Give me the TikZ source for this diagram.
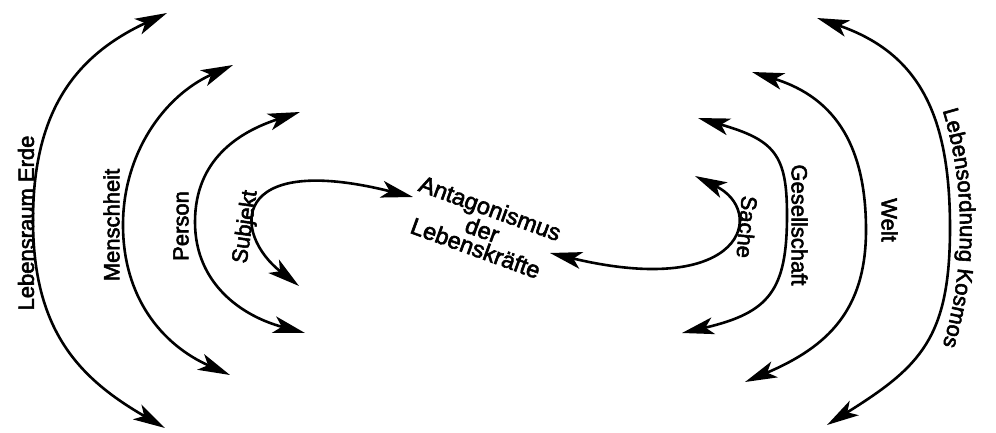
\documentclass[tikz,border=0pt]{standalone}
\usepackage{fontspec}
\newfontfamily\lblfamily[FakeBold=2.5]{Liberation Sans}
\usetikzlibrary{arrows.meta,decorations.text}
\newcommand\lblfont{\lblfamily\fontsize{22}{24}\selectfont}
\newcommand\ctrfont{\lblfamily\fontsize{23.5}{19.5}\selectfont}

\begin{document}
\begin{tikzpicture}[x=1pt,y=1pt,
  arc/.style={line width=2.6pt,
    arrows={Stealth[length=32pt,width=17pt,inset=8pt]-Stealth[length=32pt,width=17pt,inset=8pt]}},
  word/.style={font=\lblfont,inner sep=0pt}
]
\fill[white] (0,0) rectangle (996,432);
\useasboundingbox (0,0) rectangle (996,432);

% left family: bottom tip, outermost point, top tip
\coordinate (lb1) at (165,4);   \coordinate (lm1) at (33,212);  \coordinate (lt1) at (167,419);
\coordinate (lb2) at (230,57);  \coordinate (lm2) at (123,207); \coordinate (lt2) at (233,367);
\coordinate (lb3) at (305,99);  \coordinate (lm3) at (195,210); \coordinate (lt3) at (300,320);
\coordinate (sb)  at (299,146); \coordinate (st)  at (413,235);

% right family: top tip, outermost point, bottom tip
\coordinate (rt1) at (817,414); \coordinate (rm1) at (950,204); \coordinate (rb1) at (827,7);
\coordinate (rt2) at (752,360); \coordinate (rm2) at (866,202); \coordinate (rb2) at (745,50);
\coordinate (rt3) at (698,314); \coordinate (rm3) at (787,217); \coordinate (rb3) at (682,99);
\coordinate (sct) at (695,256); \coordinate (scb) at (550,179);

% left arcs
\draw[arc] (lb1) .. controls +(150:100) and +(270:110) .. (lm1)
                 .. controls +(90:110) and +(205:100) .. (lt1);
\draw[arc] (lb2) .. controls +(156:75) and +(270:72) .. (lm2)
                 .. controls +(90:72) and +(204:75) .. (lt2);
\draw[arc] (lb3) .. controls +(165:65) and +(270:62) .. (lm3)
                 .. controls +(90:62) and +(198:65) .. (lt3);
\draw[arc] (sb) .. controls +(142:85) and +(166:190) .. (st);

\node[word, rotate=90] (erde)   at (26,209)    {Lebensraum Erde};
\node[word, rotate=90] (mensch) at (111.5,207) {Menschheit};
\node[word, rotate=90] (person) at (181,206)   {Person};
\node[word, rotate=82] (subj)   at (246,205)   {Subjekt};

% right arcs
\draw[arc] (rt1) .. controls +(-19:110) and +(90:110) .. (rm1)
                 .. controls +(270:110) and +(32:110) .. (rb1);
\draw[arc] (rt2) .. controls +(-17:90) and +(90:80) .. (rm2)
                 .. controls +(270:80) and +(23:90) .. (rb2);
\draw[arc] (rt3) .. controls +(-16:80) and +(90:60) .. (rm3)
                 .. controls +(270:75) and +(13:90) .. (rb3);
\draw[arc] (sct) .. controls +(-26:80) and +(-13.4:200) .. (scb);

% the outermost label bends with its arc
\coordinate (kc) at (552,204);
\path[decorate, decoration={text along path, text align=center,
      text={|\lblfont|Lebensordnung Kosmos}}]
  (kc) ++(25:408) arc[start angle=25, end angle=-25, radius=408];
\node[word, rotate=-90] (welt)  at (889.5,212) {Welt};
\node[word, rotate=-90] (ges)   at (799.5,207) {Gesellschaft};
\node[word, rotate=-95] (sache) at (747,205)   {Sache};

% centre
\node[font=\ctrfont, align=center, rotate=-20, inner sep=0pt] (ant) at (483,204)
  {Antagonismus\\der\\Lebenskräfte};
\end{tikzpicture}
\end{document}
